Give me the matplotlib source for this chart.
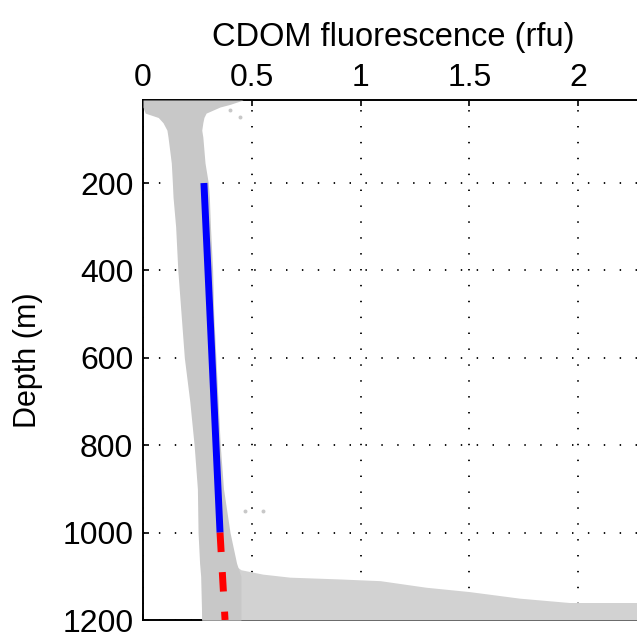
import matplotlib
matplotlib.use('Agg')
import matplotlib.pyplot as plt

# облако точек (граница плотной части) - глубина, левый и правый край
core_depth = [10, 20, 26, 40, 50, 62, 79, 95, 154, 200, 232, 300, 400, 500, 600, 700, 800, 900, 1000, 1070, 1100, 1200]
core_left = [0.0, 0.0, 0.0, 0.01, 0.07, 0.092, 0.11, 0.115, 0.13, 0.135, 0.138, 0.15, 0.16, 0.175, 0.19, 0.215, 0.235, 0.25, 0.253, 0.26, 0.265, 0.27]
core_right = [0.46, 0.40, 0.354, 0.29, 0.28, 0.275, 0.27, 0.275, 0.285, 0.30, 0.305, 0.31, 0.32, 0.325, 0.335, 0.345, 0.355, 0.37, 0.40, 0.43, 0.45, 0.45]

# разброс у дна (x и верхняя граница по глубине)
spread_x = [0.27, 0.40, 0.45, 0.55, 0.675, 0.9, 1.09, 1.3, 1.5, 1.73, 1.96, 2.3]
spread_top = [1060, 1067, 1085, 1095, 1102, 1106, 1110, 1125, 1135, 1150, 1160, 1160]

# отдельные выбросы
out_x = [0.40, 0.445, 0.47, 0.55, 0.33, 0.31]
out_depth = [33, 49, 950, 950, 1035, 1090]

# линии тренда
fit_depth = [200, 1000]
fit_x = [0.28, 0.354]
ext_depth = [1000, 1200]
ext_x = [0.354, 0.377]

plt.rcParams['font.family'] = ['Liberation Sans', 'DejaVu Sans']

fig = plt.figure(figsize=(6.37, 6.33), dpi=100)
ax = fig.add_axes([143 / 637, 13 / 633, 500.5 / 637, 520 / 633])

gray = '#c8c8c8'
ax.fill_between(spread_x, spread_top, [1200] * len(spread_x), color='#d2d2d2', lw=0, zorder=3)
ax.fill_betweenx(core_depth, core_left, core_right, color=gray, lw=0, zorder=3)
ax.scatter(out_x, out_depth, s=8, color=gray, lw=0, zorder=3)

ax.plot(fit_x, fit_depth, color='#0000ff', lw=5, solid_capstyle='butt', zorder=4)
ax.plot(ext_x, ext_depth, color='#ff0000', lw=5, dashes=(2.8, 2.9), zorder=4)

ax.set_xlim(0, 2.3)
ax.set_ylim(1200, 10)
ax.set_xticks([0, 0.5, 1, 1.5, 2])
ax.set_xticklabels(['0', '0.5', '1', '1.5', '2'])
ax.set_yticks([200, 400, 600, 800, 1000, 1200])

ax.xaxis.tick_top()
ax.xaxis.set_label_position('top')
ax.tick_params(axis='both', direction='in', length=4, width=1.2, labelsize=23,
               top=True, bottom=True, left=True, right=True, pad=7)
ax.tick_params(axis='x', labeltop=True, labelbottom=False, pad=5)

ax.set_xlabel('CDOM fluorescence (rfu)', fontsize=23.5, labelpad=12)
ax.set_ylabel('Depth (m)', fontsize=22, labelpad=14)

ax.grid(True, color='black', lw=1.3, linestyle=(0, (0.8, 8)), zorder=1)
ax.set_axisbelow(True)
for sp in ax.spines.values():
    sp.set_linewidth(1.4)

plt.savefig('out.png', dpi=100)
plt.close(fig)
